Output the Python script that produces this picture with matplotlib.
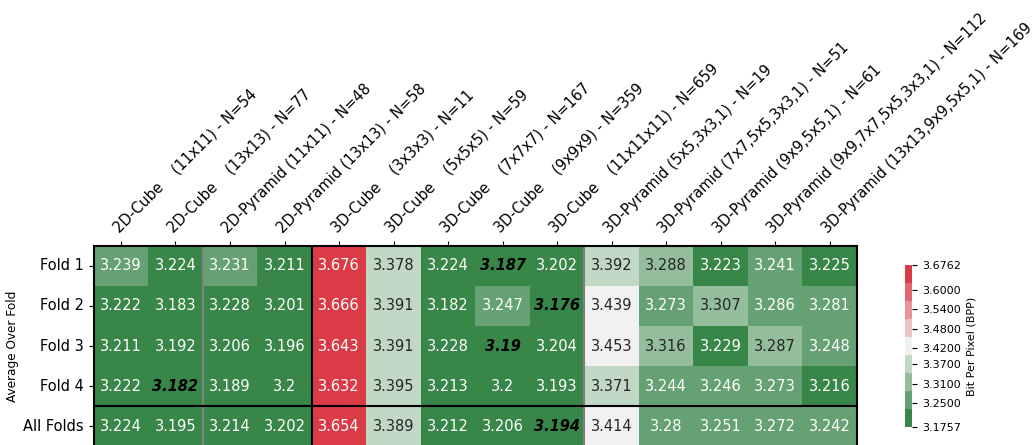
import numpy as np
import matplotlib
matplotlib.use("Agg")
import matplotlib.pyplot as plt
from matplotlib.colors import ListedColormap
import seaborn as sns

### Data
methods = ["2D-Cube", "2D-Cube", "2D-Pyramid", "2D-Pyramid",
           "3D-Cube", "3D-Cube", "3D-Cube", "3D-Cube", "3D-Cube",
           "3D-Pyramid", "3D-Pyramid", "3D-Pyramid", "3D-Pyramid", "3D-Pyramid"]
kernels = ["(11x11)", "(13x13)", "(11x11)", "(13x13)",
           "(3x3x3)", "(5x5x5)", "(7x7x7)", "(9x9x9)", "(11x11x11)",
           "(5x5,3x3,1)", "(7x7,5x5,3x3,1)", "(9x9,5x5,1)",
           "(9x9,7x7,5x5,3x3,1)", "(13x13,9x9,5x5,1)"]
n_params = [54, 77, 48, 58, 11, 59, 167, 359, 659, 19, 51, 61, 112, 169]
rows = ["Fold 1", "Fold 2", "Fold 3", "Fold 4", "All Folds"]

fold1 = [3.239, 3.224, 3.2314, 3.211, 3.6762, 3.378, 3.224, 3.187, 3.202, 3.392, 3.288, 3.223, 3.241, 3.225]
fold2 = [3.222, 3.183, 3.228, 3.201, 3.666, 3.391, 3.182, 3.247, 3.1757, 3.439, 3.273, 3.307, 3.286, 3.281]
fold3 = [3.211, 3.192, 3.206, 3.196, 3.643, 3.391, 3.228, 3.19, 3.204, 3.453, 3.316, 3.229, 3.287, 3.248]
fold4 = [3.222, 3.182, 3.189, 3.2, 3.632, 3.395, 3.213, 3.2, 3.193, 3.371, 3.244, 3.246, 3.273, 3.216]
all_folds = [3.224, 3.195, 3.214, 3.202, 3.654, 3.389, 3.212, 3.206, 3.194, 3.414, 3.28, 3.251, 3.272, 3.242]

cbar_inner_ticks = [3.25, 3.31, 3.37, 3.42, 3.48, 3.54, 3.60]

bpp = np.array([fold1, fold2, fold3, fold4, all_folds])
xlabels = [f"{m:<10} {k} - N={n}" for m, k, n in zip(methods, kernels, n_params)]
annot = np.array([[f"{round(v, 3):g}" for v in r] for r in bpp])

vmin, vmax = bpp.min(), bpp.max()
cbar_ticks = [vmin] + cbar_inner_ticks + [vmax]

cmap = ListedColormap(sns.diverging_palette(133, 10, n=9))

### Plot
fig = plt.figure(figsize=(10.33, 4.45), dpi=100)
ax = fig.add_axes([0.0907, -0.0034, 0.7389, 0.4517])
cax = fig.add_axes([0.876, 0.0404, 0.0073, 0.364])

sns.heatmap(bpp, ax=ax, cbar_ax=cax, cmap=cmap, vmin=vmin, vmax=vmax,
            annot=annot, fmt="", annot_kws={"fontsize": 10.5},
            xticklabels=xlabels, yticklabels=rows,
            cbar_kws={"ticks": cbar_ticks})

# row minimum in bold italic
for t in ax.texts:
    x, y = t.get_position()
    i, j = int(y), int(x)
    if j == np.argmin(bpp[i]):
        t.set_color("black")
        t.set_fontweight("bold")
        t.set_fontstyle("italic")

ax.xaxis.tick_top()
ax.set_xticklabels(xlabels, rotation=45, ha="left", va="bottom",
                   rotation_mode="anchor", fontsize=10.5)
ax.set_yticklabels(rows, rotation=0, fontsize=10.5)
ax.set_ylabel("Average Over Fold", fontsize=8.7, labelpad=3)

# group separators
ax.axvline(2, color="gray", lw=1.5)
ax.axvline(4, color="black", lw=1.5)
ax.axvline(9, color="gray", lw=1.5)
ax.axhline(4, color="black", lw=1.5)
for s in ax.spines.values():
    s.set_visible(True)
    s.set_color("black")
    s.set_linewidth(1.5)

cax.set_yticks(cbar_ticks)
cax.set_yticklabels([f"{t:.4f}" for t in cbar_ticks], fontsize=8)
cax.set_ylabel("Bit Per Pixel (BPP)", fontsize=8, labelpad=4)

fig.savefig("out.png", dpi=100)
